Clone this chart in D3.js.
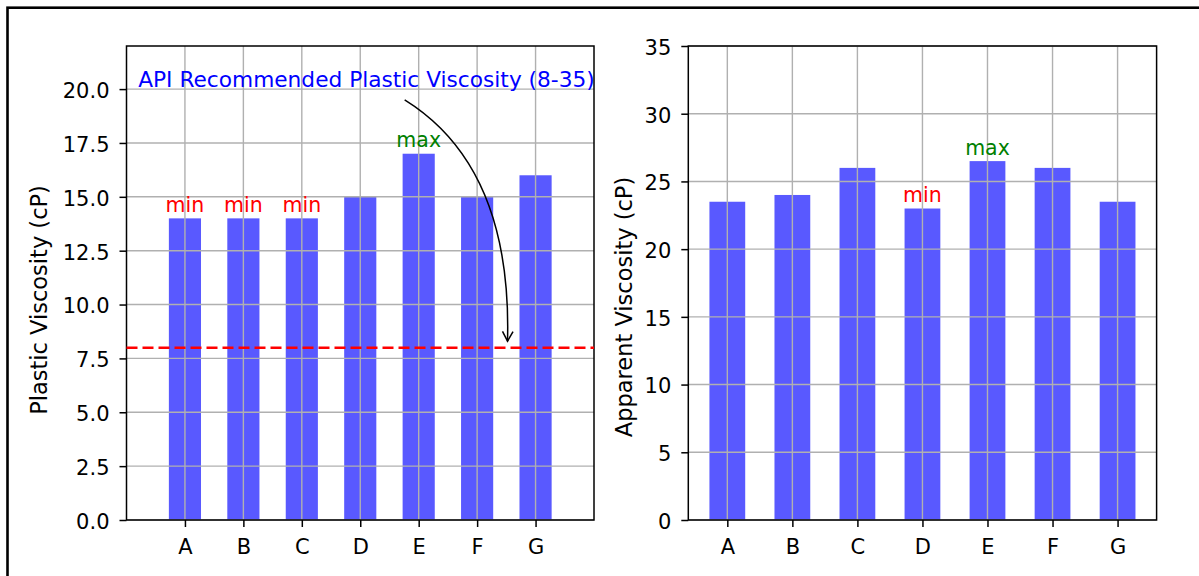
<!DOCTYPE html>
<meta charset="utf-8">
<script src="https://d3js.org/d3.v7.min.js"></script>
<style>
  body { margin: 0; background: #fff; }
  svg, svg text { font-family: "DejaVu Sans", sans-serif; }
  .tick text { font-size: 21px; fill: #000; font-family: "DejaVu Sans", sans-serif; }
  .tick line { stroke: #000; stroke-width: 1.5; }
  .domain { display: none; }
</style>
<div id="my_dataviz"></div>
<script>
// data
var categories = ["A", "B", "C", "D", "E", "F", "G"];
var plasticViscosity = [14, 14, 14, 15, 17, 15, 16];
var apparentViscosity = [23.5, 24, 26, 23, 26.5, 26, 23.5];
var plasticTicks = [0, 2.5, 5, 7.5, 10, 12.5, 15, 17.5, 20];
var apparentTicks = [0, 5, 10, 15, 20, 25, 30, 35];
var plasticMarks = ["min", "min", "min", null, "max", null, null];
var apparentMarks = [null, null, null, "min", "max", null, null];
var apiLimit = 8;
var apiText = "API Recommended Plastic Viscosity (8-35)";
// annotation text anchor and arrow (data units of left panel)
var apiTextPos = [-0.8, 20.08];
var apiArrow = [[3.76, 19.5], [5.6, 16.4], [5.52, 8.3]];

var markColor = {min: "red", max: "green"};
var barWidth = 0.55;

var svg = d3.select("#my_dataviz")
  .append("svg")
    .attr("width", 1199)
    .attr("height", 576);

// outer frame
svg.append("rect")
  .attr("x", 7.5).attr("y", 7.7)
  .attr("width", 1400).attr("height", 800)
  .attr("fill", "none")
  .attr("stroke", "#000")
  .attr("stroke-width", 2.6);

function drawPanel(p) {
  var g = svg.append("g");
  var x = d3.scaleLinear().domain(p.xDomain).range(p.xRange);
  var y = d3.scaleLinear().domain(p.yDomain).range([520, 46]);

  // bars
  g.selectAll("rect.bar")
    .data(p.values)
    .enter()
    .append("rect")
      .attr("class", "bar")
      .attr("x", function(d, i) { return x(i - barWidth / 2) })
      .attr("width", x(barWidth) - x(0))
      .attr("y", function(d) { return y(d) })
      .attr("height", function(d) { return y(0) - y(d) })
      .attr("fill", "#5959ff");

  // grid on top of bars
  g.selectAll("line.vgrid")
    .data(categories)
    .enter()
    .append("line")
      .attr("x1", function(d, i) { return x(i) })
      .attr("x2", function(d, i) { return x(i) })
      .attr("y1", y.range()[0]).attr("y2", y.range()[1])
      .attr("stroke", "#b0b0b0").attr("stroke-width", 1.4);
  g.selectAll("line.hgrid")
    .data(p.ticks)
    .enter()
    .append("line")
      .attr("x1", p.xRange[0]).attr("x2", p.xRange[1])
      .attr("y1", function(d) { return y(d) })
      .attr("y2", function(d) { return y(d) })
      .attr("stroke", "#b0b0b0").attr("stroke-width", 1.4);

  // axes
  g.append("g")
    .attr("transform", "translate(0,520)")
    .call(d3.axisBottom(x)
      .tickValues(d3.range(categories.length))
      .tickFormat(function(i) { return categories[i] })
      .tickSize(7).tickPadding(12));
  var ya = g.append("g")
    .attr("transform", "translate(" + p.xRange[0] + ",0)")
    .call(d3.axisLeft(y).tickValues(p.ticks).tickFormat(p.fmt)
      .tickSize(7).tickPadding(10));
  ya.selectAll(".tick text").attr("dy", "0.4em");

  // spines
  g.append("rect")
    .attr("x", p.xRange[0]).attr("y", 46)
    .attr("width", p.xRange[1] - p.xRange[0]).attr("height", 474)
    .attr("fill", "none").attr("stroke", "#000").attr("stroke-width", 1.5);

  // min / max labels
  p.marks.forEach(function(m, i) {
    if (!m) return;
    g.append("text")
      .attr("text-anchor", "middle")
      .attr("x", x(i))
      .attr("y", y(p.values[i]) - 6.3)
      .attr("fill", markColor[m])
      .style("font-size", "20.5px")
      .text(m);
  });

  // y label
  g.append("text")
    .attr("text-anchor", "middle")
    .attr("transform", "translate(" + p.labelX + "," + p.labelY + ") rotate(-90)")
    .style("font-size", "22.5px")
    .text(p.label);

  return {g: g, x: x, y: y};
}

var left = drawPanel({
  values: plasticViscosity, marks: plasticMarks, ticks: plasticTicks,
  xDomain: [-1, 7], xRange: [126.5, 594], yDomain: [0, 22],
  fmt: d3.format(".1f"), label: "Plastic Viscosity (cP)", labelX: 46.5, labelY: 300
});
var right = drawPanel({
  values: apparentViscosity, marks: apparentMarks, ticks: apparentTicks,
  xDomain: [-0.6, 6.6], xRange: [688.3, 1156.6], yDomain: [0, 35],
  fmt: d3.format("d"), label: "Apparent Viscosity (cP)", labelX: 631.5, labelY: 307
});

// API limit line
left.g.append("line")
  .attr("x1", 126.5).attr("x2", 594)
  .attr("y1", left.y(apiLimit)).attr("y2", left.y(apiLimit))
  .attr("stroke", "red").attr("stroke-width", 2.5)
  .attr("stroke-dasharray", "11,5");

// annotation
left.g.append("text")
  .attr("x", left.x(apiTextPos[0]))
  .attr("y", left.y(apiTextPos[1]))
  .attr("fill", "blue")
  .style("font-size", "21.7px")
  .text(apiText);

var pts = apiArrow.map(function(d) { return [left.x(d[0]), left.y(d[1])] });
var path = d3.path();
path.moveTo(pts[0][0], pts[0][1]);
path.quadraticCurveTo(pts[1][0], pts[1][1], pts[2][0], pts[2][1]);
left.g.append("path")
  .attr("d", path.toString())
  .attr("fill", "none").attr("stroke", "#000").attr("stroke-width", 1.5);

// open arrow head along the end tangent
var ang = Math.atan2(pts[2][1] - pts[1][1], pts[2][0] - pts[1][0]);
var hl = 11, hw = 0.5;
var head = d3.path();
head.moveTo(pts[2][0] - hl * Math.cos(ang - hw), pts[2][1] - hl * Math.sin(ang - hw));
head.lineTo(pts[2][0], pts[2][1]);
head.lineTo(pts[2][0] - hl * Math.cos(ang + hw), pts[2][1] - hl * Math.sin(ang + hw));
left.g.append("path")
  .attr("d", head.toString())
  .attr("fill", "none").attr("stroke", "#000").attr("stroke-width", 1.5);
</script>
